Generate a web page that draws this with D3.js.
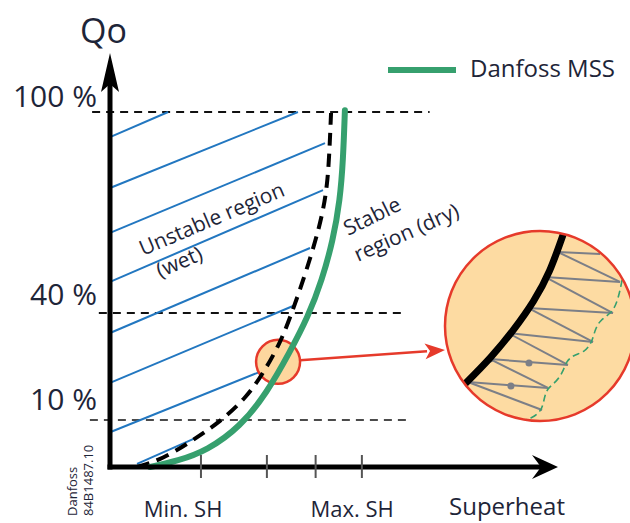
<!DOCTYPE html>
<html><head><meta charset="utf-8">
<script src="https://cdn.jsdelivr.net/npm/d3@7"></script>
<style>html,body{margin:0;padding:0;background:#fff}svg{display:block}text{font-family:"Open Sans",sans-serif}</style>
</head><body><svg id="c" width="630" height="523"></svg>
<script>
// ---- data ----
const yTickValues = [100, 40, 10];
const yTickLabels = ["100 %", "40 %", "10 %"];
const shTickValues = [4.07, 7.02, 9.2, 11.27];
const shLabelValues = [3.27, 10.83];
const shLabels = ["Min. SH", "Max. SH"];
const mssSH = [1.79, 3.04, 4.34, 5.82, 7.02, 8.05, 8.86, 9.49, 9.98, 10.29, 10.43, 10.51];
const mssQ  = [0, 1.3, 3.5, 8.5, 17.6, 29.1, 38.9, 49.9, 61.8, 73.7, 85.7, 100.5];
const tevSH = [1.21, 2.37, 3.71, 4.92, 6.13, 6.94, 7.61, 8.05, 8.50, 9.08, 9.53, 9.75, 9.84, 9.89];
const tevQ  = [0, 1.7, 5.7, 9.6, 16.4, 24.0, 31.6, 38.6, 46.9, 58.8, 69.9, 79.7, 91.6, 99.7];
const hatchSH0 = [0, 0, 0, 0, 0, 0, 0, 1.21];
const hatchQ0  = [92.5, 77.3, 63.9, 49.3, 34.4, 20.4, 7.4, 0.65];
const hatchSH1 = [2.6, 8.41, 9.62, 9.53, 8.95, 8.19, 6.71, 3.89];
const hatchQ1  = [100, 100, 90.7, 76.7, 59.4, 42.1, 23.5, 6.3];
const guideSHStart = [-0.8, -0.5, -0.9];
const guideSHEnd = [14.3, 13.2, 13.4];
const zoomSH = 7.52, zoomQ = 26.3;
const legendLabel = "Danfoss MSS";
// inset (magnified view), local units 0..100
const insetCurveU = [11.0, 24.0, 36.0, 46.5, 55.0, 62.5];
const insetCurveV = [20.0, 33.5, 48.0, 63.0, 79.0, 99.0];
const nearU = [59.5, 52.6, 43.7, 33.2, 23.7, 12.1];
const nearV = [88.9, 75.8, 59.5, 46.3, 32.6, 20.5];
const farU = [81.6, 92.1, 88.4, 77.9, 64.7, 54.2, 51.1];
const farV = [87.9, 73.2, 56.8, 41.6, 29.5, 17.4, 5.8];
const dotU = [23.7, 44.2, 34.7];
const dotV = [32.6, 30.5, 18.4];
const waveU = [93.2, 91.1, 87.9, 81.6, 78.9, 77.4, 73.7, 67.4, 63.7, 62.1, 58.4, 54.2, 52.6, 51.6, 50.0, 45.8, 42.1];
const waveV = [74.2, 63.7, 56.8, 53.2, 47.9, 41.6, 36.3, 34.7, 31.1, 25.8, 20.5, 17.4, 13.7, 8.4, 4.7, 1.6, 0.5];
const arrowTipU = 0, arrowTipV = 37.4;

// ---- drawing ----
const svg = d3.select("#c");
svg.append("rect").attr("width", 630).attr("height", 523).attr("fill", "#fff");
const x = d3.scaleLinear().domain([0, 20]).range([110, 557]);
const y = d3.scaleLinear().domain([0, 10, 40, 100]).range([467, 420, 313, 112]);
const ix = d3.scaleLinear().domain([0, 100]).range([445, 635]);
const iy = d3.scaleLinear().domain([0, 100]).range([421, 231]);
const textCol = "#1e2538";
const green = "#36a06e", blue = "#2277c0", red = "#e63a2b";

// guide dashed lines
yTickValues.forEach((v, i) => {
  svg.append("line").attr("x1", x(guideSHStart[i])).attr("x2", x(guideSHEnd[i]))
    .attr("y1", y(v)).attr("y2", y(v)).attr("stroke", "#111")
    .attr("stroke-width", i === 2 ? 1.5 : 1.8).attr("stroke-dasharray", "8,6");
});
const lblOff = [-5, -8, -10];
yTickValues.forEach((v, i) => {
  svg.append("text").attr("x", 97).attr("y", y(v) + lblOff[i]).attr("text-anchor", "end")
    .attr("font-size", 30).attr("fill", textCol).text(yTickLabels[i]);
});

// hatch lines
hatchSH0.forEach((s, i) => {
  svg.append("line").attr("x1", x(s)).attr("y1", y(hatchQ0[i]))
    .attr("x2", x(hatchSH1[i])).attr("y2", y(hatchQ1[i]))
    .attr("stroke", blue).attr("stroke-width", 2);
});

// small zoom circle (under the curves)
const zx = x(zoomSH), zy = y(zoomQ), zr = 22;
svg.append("circle").attr("cx", zx).attr("cy", zy).attr("r", zr).attr("fill", "#fdd79e")
  .attr("stroke", red).attr("stroke-width", 2.5);

const line = d3.line().curve(d3.curveBasis);
// TEV dashed curve
svg.append("path").attr("d", line(tevSH.map((s, i) => [x(s), y(tevQ[i])])))
  .attr("fill", "none").attr("stroke", "#000").attr("stroke-width", 4)
  .attr("stroke-dasharray", "13,8");
// MSS curve
svg.append("path").attr("d", line(mssSH.map((s, i) => [x(s), y(mssQ[i])])))
  .attr("fill", "none").attr("stroke", green).attr("stroke-width", 6).attr("stroke-linecap", "round");

// axes
svg.append("line").attr("x1", 110).attr("x2", 110).attr("y1", y(0) + 2.5).attr("y2", 80)
  .attr("stroke", "#000").attr("stroke-width", 5);
svg.append("path").attr("d", "M110,53 L119,92 L110,84 L101,92 Z").attr("fill", "#000");
svg.append("line").attr("x1", 107.5).attr("x2", 545).attr("y1", y(0)).attr("y2", y(0))
  .attr("stroke", "#000").attr("stroke-width", 5);
svg.append("path").attr("d", `M558,${y(0)} L532,${y(0) - 12} L541,${y(0)} L532,${y(0) + 12} Z`).attr("fill", "#000");
shTickValues.forEach(v => {
  svg.append("line").attr("x1", x(v)).attr("x2", x(v)).attr("y1", 455).attr("y2", 478)
    .attr("stroke", "#555").attr("stroke-width", 2);
});
shLabelValues.forEach((v, i) => {
  svg.append("text").attr("x", x(v)).attr("y", 517).attr("text-anchor", "middle")
    .attr("font-size", 22).attr("fill", textCol).text(shLabels[i]);
});
svg.append("text").attr("x", 449).attr("y", 515).attr("font-size", 24).attr("fill", textCol).text("Superheat");
const q = svg.append("text").attr("x", 80).attr("y", 43).attr("font-size", 34).attr("fill", textCol);
q.append("tspan").text("Q"); q.append("tspan").text("o");

// region labels
function rot(t, px, py, a, fs) {
  svg.append("text").attr("transform", `translate(${px},${py}) rotate(${a})`)
    .attr("font-size", fs).attr("fill", textCol).text(t);
}
rot("Unstable region", 143, 256, -23, 21);
rot("(wet)", 160, 278, -23, 21);
rot("Stable", 348, 236, -26, 21);
rot("region (dry)", 358, 262, -24, 21);

// stamp
svg.append("text").attr("transform", "translate(77,516) rotate(-90)").attr("font-size", 13).attr("fill", textCol).text("Danfoss");
svg.append("text").attr("transform", "translate(93,516) rotate(-90)").attr("font-size", 13).attr("fill", textCol).text("84B1487.10");

// legend
svg.append("line").attr("x1", 388).attr("x2", 456).attr("y1", 70).attr("y2", 70).attr("stroke", green).attr("stroke-width", 6);
svg.append("text").attr("x", 470).attr("y", 77).attr("font-size", 24).attr("fill", textCol).text(legendLabel);

// arrow
const tx = ix(arrowTipU), ty = iy(arrowTipV);
const ang = Math.atan2(ty - zy, tx - zx);
const sx = zx + zr * Math.cos(ang), sy = zy + zr * Math.sin(ang);
const hl = 20, hw = 8;
const bx = tx - hl * Math.cos(ang), by = ty - hl * Math.sin(ang);
svg.append("line").attr("x1", sx).attr("y1", sy).attr("x2", bx + 2 * Math.cos(ang)).attr("y2", by + 2 * Math.sin(ang))
  .attr("stroke", red).attr("stroke-width", 2.5);
svg.append("path").attr("d", `M${tx},${ty} L${bx - hw * Math.sin(ang)},${by + hw * Math.cos(ang)} L${bx + 5 * Math.cos(ang)},${by + 5 * Math.sin(ang)} L${bx + hw * Math.sin(ang)},${by - hw * Math.cos(ang)} Z`)
  .attr("fill", red);

// inset circle
const icx = ix(50), icy = iy(50), ir = ix(50) - ix(0);
svg.append("defs").append("clipPath").attr("id", "ic").append("circle").attr("cx", icx).attr("cy", icy).attr("r", ir);
svg.append("circle").attr("cx", icx).attr("cy", icy).attr("r", ir).attr("fill", "#fddba2");
const g = svg.append("g").attr("clip-path", "url(#ic)");
nearU.forEach((u, i) => {
  g.append("line").attr("x1", ix(u)).attr("y1", iy(nearV[i])).attr("x2", ix(farU[i])).attr("y2", iy(farV[i]))
    .attr("stroke", "#7c7f87").attr("stroke-width", 2);
  g.append("line").attr("x1", ix(u)).attr("y1", iy(nearV[i])).attr("x2", ix(farU[i + 1])).attr("y2", iy(farV[i + 1]))
    .attr("stroke", "#7c7f87").attr("stroke-width", 2);
});
dotU.forEach((u, i) => {
  g.append("circle").attr("cx", ix(u)).attr("cy", iy(dotV[i])).attr("r", 3.5).attr("fill", "#7c7f87");
});
g.append("path").attr("d", d3.line().curve(d3.curveBasis)(waveU.map((u, i) => [ix(u), iy(waveV[i])])))
  .attr("fill", "none").attr("stroke", green).attr("stroke-width", 1.6).attr("stroke-dasharray", "7,4");
g.append("path").attr("d", d3.line().curve(d3.curveNatural)(insetCurveU.map((u, i) => [ix(u), iy(insetCurveV[i])])))
  .attr("fill", "none").attr("stroke", "#000").attr("stroke-width", 7).attr("stroke-linecap", "round");
svg.append("circle").attr("cx", icx).attr("cy", icy).attr("r", ir).attr("fill", "none").attr("stroke", red).attr("stroke-width", 2.5);
</script></body></html>
